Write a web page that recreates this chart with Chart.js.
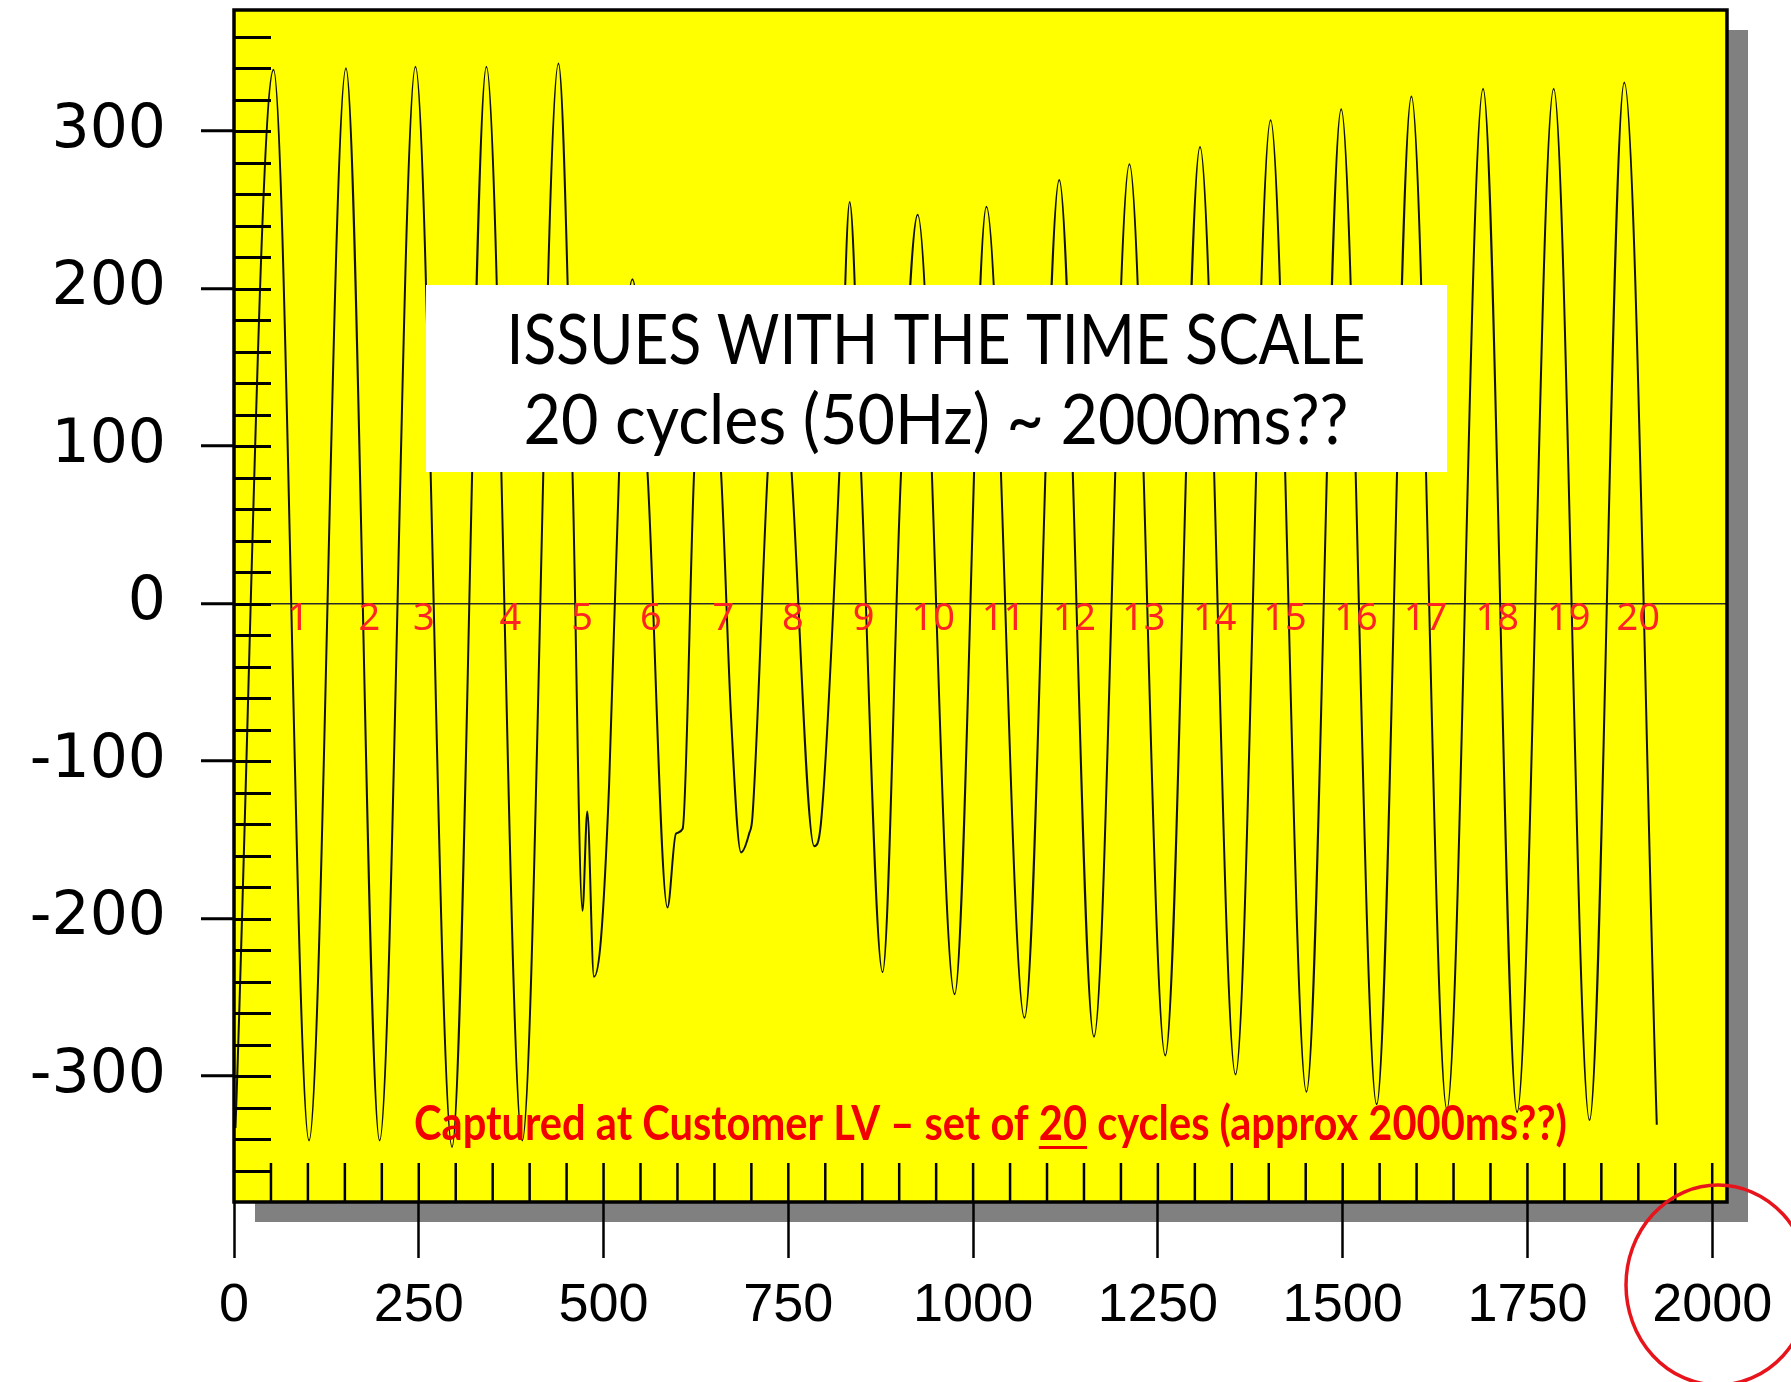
<!DOCTYPE html>
<html>
<head>
<meta charset="utf-8">
<title>Customer LV capture - time scale</title>
<script src="https://cdn.jsdelivr.net/npm/chart.js@4.4.1/dist/chart.umd.min.js"></script>
<style>
  html, body { margin: 0; padding: 0; background: #fff; }
  #wrap { width: 1791px; height: 1382px; }
</style>
</head>
<body>
<div id="wrap"><canvas id="scope" width="1791" height="1382"></canvas></div>
<script>
// trace: peaks, troughs and the odd in-between point (ms / V)
const timeMs = [
    2, 53.5, 101.5, 151.5, 197, 245.5, 295, 341.5, 390, 439,
    458, 471.5, 478, 487, 496.5, 507.5, 521, 539,
    559.5, 586.5, 598, 607, 622.5, 640,
    659, 672.5, 686, 697, 701.5, 722, 738,
    754.5, 785, 794, 819, 833,
    848.5, 877.5, 902.5, 925,
    975, 1018, 1069.5, 1116.5, 1163.5, 1211.5, 1260, 1307, 1355, 1402.5,
    1451, 1498, 1546, 1593, 1641, 1690, 1736, 1785.5, 1834, 1881, 1925
];
const voltage = [
    -333, 339, -341, 340, -341, 341, -345, 341, -341, 343,
    83, -195, -132, -237, -213, -115, 83, 206,
    83, -193, -146, -143, 83, 185,
    83, -72, -158, -146, -135, 83, 195,
    83, -154, -140, 83, 255,
    83, -234, 83, 247,
    -248, 252, -263, 269, -275, 279, -287, 290, -299, 307,
    -310, 314, -318, 322, -321, 327, -323, 327, -328, 331, -331
];

const xTickValues = [0, 250, 500, 750, 1000, 1250, 1500, 1750, 2000];
const yTickValues = [-300, -200, -100, 0, 100, 200, 300];

// red cycle counters written just under the zero line
const cycleNumbers = ['1', '2', '3', '4', '5', '6', '7', '8', '9', '10',
    '11', '12', '13', '14', '15', '16', '17', '18', '19', '20'];
const cycleLabelMs = [87, 183, 257, 374, 471, 564, 662, 756, 852, 946,
    1041, 1137, 1231, 1327, 1422, 1518, 1612, 1709, 1806, 1900];
const cycleLabelV = -10;

const boxLines = ['ISSUES WITH THE TIME SCALE', '20 cycles (50Hz) ~ 2000ms??'];
const captionBefore = 'Captured at Customer LV \u2013 set of ';
const captionUnderlined = '20';
const captionAfter = ' cycles (approx 2000ms??)';

const overlays = {
    id: 'overlays',
    beforeDraw(chart) {
        const { ctx, chartArea: a } = chart;
        ctx.save();
        ctx.fillStyle = '#ffffff';
        ctx.fillRect(0, 0, chart.width, chart.height);
        // drop shadow behind the plot
        ctx.fillStyle = '#808080';
        ctx.fillRect(a.left + 21, a.top + 20, a.right - a.left, a.bottom - a.top);
        ctx.fillStyle = '#ffff00';
        ctx.fillRect(a.left, a.top, a.right - a.left, a.bottom - a.top);
        ctx.restore();
    },
    afterDatasetsDraw(chart) {
        const { ctx, chartArea: a, scales: { x, y } } = chart;
        ctx.save();
        ctx.strokeStyle = '#000';
        // minor ticks inside the frame
        ctx.lineWidth = 3;
        ctx.beginPath();
        for (let v = -360; v <= 360; v += 20) {
            const py = Math.round(y.getPixelForValue(v)) + 0.5;
            ctx.moveTo(a.left, py);
            ctx.lineTo(a.left + 37, py);
        }
        ctx.stroke();
        ctx.lineWidth = 2.5;
        ctx.beginPath();
        for (let v = 50; v <= 2000; v += 50) {
            const px = x.getPixelForValue(v);
            ctx.moveTo(px, a.bottom);
            ctx.lineTo(px, a.bottom - 39);
        }
        ctx.stroke();
        ctx.lineWidth = 3.5;
        ctx.strokeRect(a.left, a.top, a.right - a.left, a.bottom - a.top);
        ctx.restore();
    },
    afterDraw(chart) {
        const { ctx, scales: { x, y } } = chart;
        ctx.save();

        // white note box
        ctx.fillStyle = '#ffffff';
        ctx.fillRect(426, 285, 1021, 187);
        ctx.fillStyle = '#000';
        ctx.textAlign = 'center';
        ctx.textBaseline = 'alphabetic';
        ctx.font = '70px Lato, "Open Sans", sans-serif';
        ctx.fillText(boxLines[0], 936, 364, 859);
        ctx.fillText(boxLines[1], 936, 444, 825);

        // cycle numbers
        ctx.fillStyle = '#ff2424';
        ctx.font = '38px "Noto Sans", sans-serif';
        ctx.textBaseline = 'middle';
        cycleNumbers.forEach((n, i) => {
            ctx.fillText(n, x.getPixelForValue(cycleLabelMs[i]), y.getPixelForValue(cycleLabelV));
        });

        // caption along the bottom of the plot
        ctx.fillStyle = '#f20000';
        ctx.font = 'bold 47px Lato, "Open Sans", sans-serif';
        ctx.textAlign = 'left';
        ctx.textBaseline = 'alphabetic';
        const full = captionBefore + captionUnderlined + captionAfter;
        const sx = Math.min(1, 1153 / ctx.measureText(full).width);
        ctx.save();
        ctx.translate(414, 1140);
        ctx.scale(sx, 1);
        ctx.fillText(full, 0, 0);
        const u0 = ctx.measureText(captionBefore).width;
        const uw = ctx.measureText(captionUnderlined).width;
        ctx.fillRect(u0, 6, uw, 3);
        ctx.restore();

        // red ring round the 2000 label
        ctx.strokeStyle = '#e8141c';
        ctx.lineWidth = 3.5;
        ctx.beginPath();
        ctx.ellipse(1718, 1285, 92, 100, 0, 0, Math.PI * 2);
        ctx.stroke();

        ctx.restore();
    }
};

new Chart(document.getElementById('scope'), {
    type: 'line',
    data: {
        datasets: [{
            data: timeMs.map((t, i) => ({ x: t, y: voltage[i] })),
            borderColor: '#111111',
            borderWidth: 2,
            pointRadius: 0,
            fill: false,
            cubicInterpolationMode: 'monotone'
        }]
    },
    options: {
        responsive: false,
        animation: false,
        devicePixelRatio: 1,
        layout: { padding: { left: 0, top: 10, right: 64, bottom: 0 } },
        plugins: { legend: { display: false }, tooltip: { enabled: false } },
        scales: {
            x: {
                type: 'linear',
                min: 0,
                max: 2020,
                border: { display: false },
                grid: { drawOnChartArea: false, drawTicks: true, tickLength: 56, tickWidth: 2.5, tickColor: '#000' },
                ticks: {
                    autoSkip: false,
                    maxRotation: 0,
                    padding: 16,
                    color: '#000',
                    font: { family: '"Liberation Sans", Arial, sans-serif', size: 54 },
                    callback: v => String(v)
                },
                afterBuildTicks(s) { s.ticks = xTickValues.map(v => ({ value: v })); },
                afterFit(s) { s.height = 180; s.paddingLeft = 0; s.paddingRight = 0; }
            },
            y: {
                type: 'linear',
                min: -380,
                max: 377,
                border: { display: false },
                grid: {
                    drawOnChartArea: true,
                    color: c => (c.tick && c.tick.value === 0 ? '#2a2a2a' : 'rgba(0,0,0,0)'),
                    lineWidth: 1.5,
                    drawTicks: true,
                    tickLength: 33,
                    tickWidth: 3,
                    tickColor: '#000'
                },
                ticks: {
                    autoSkip: false,
                    padding: 35,
                    color: '#000',
                    font: { family: '"DejaVu Sans", sans-serif', size: 60 },
                    callback: v => String(v)
                },
                afterBuildTicks(s) { s.ticks = yTickValues.map(v => ({ value: v })); },
                afterFit(s) { s.width = 234; s.paddingTop = 0; s.paddingBottom = 0; }
            }
        }
    },
    plugins: [overlays]
});
</script>
</body>
</html>
